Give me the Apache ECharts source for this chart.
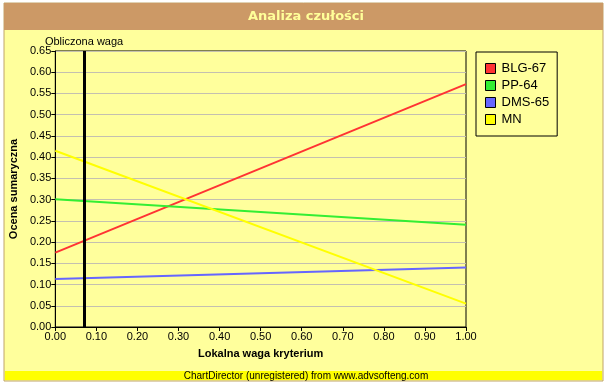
<!DOCTYPE html>
<html>
<head>
<meta charset="utf-8">
<script src="https://cdn.jsdelivr.net/npm/echarts@6/dist/echarts.min.js"></script>
<style>html,body{margin:0;padding:0;background:#fff}#c{width:607px;height:384px}</style>
</head>
<body>
<div id="c"></div>
<script>
var xValues = [0, 1];
var seriesNames = ['BLG-67', 'PP-64', 'DMS-65', 'MN'];
var blg67 = [0.175, 0.572];
var pp64 = [0.301, 0.241];
var dms65 = [0.113, 0.140];
var mn = [0.415, 0.055];
var computedWeight = 0.07;
var colors = ['#ff3333', '#33ee33', '#6666ff', '#ffff00'];

var allValues = [blg67, pp64, dms65, mn];
var chart = echarts.init(document.getElementById('c'));
var font = 'Liberation Sans, Arial, sans-serif';

var series = seriesNames.map(function (name, i) {
  return {
    name: name,
    type: 'line',
    data: xValues.map(function (x, j) { return [x, allValues[i][j]]; }),
    symbol: 'none',
    lineStyle: { color: colors[i], width: 2 },
    itemStyle: { color: colors[i] },
    z: 3,
    silent: true
  };
});
series[0].markLine = {
  silent: true,
  symbol: 'none',
  lineStyle: { color: '#000', width: 3, type: 'solid' },
  label: { show: true, position: 'end', formatter: 'Obliczona waga', color: '#000', fontSize: 11, fontFamily: font, distance: 4 },
  data: [{ xAxis: computedWeight }],
  z: 5
};

chart.setOption({
  animation: false,
  backgroundColor: '#fff',
  graphic: [
    { type: 'rect', shape: { x: 4, y: 3, width: 599, height: 378 }, style: { fill: '#ffff9c', stroke: '#c0a468', lineWidth: 1 }, z: -10 },
    { type: 'rect', shape: { x: 4, y: 3, width: 599, height: 27 }, style: { fill: '#cc9966' }, z: -9 },
    { type: 'rect', shape: { x: 5, y: 371, width: 597, height: 9 }, style: { fill: '#ffff00' }, z: -9 },
    { type: 'text', x: 306, y: 17, style: { text: 'Analiza czułości', fill: '#ffff99', font: 'bold 13px DejaVu Sans, sans-serif', textAlign: 'center', textVerticalAlign: 'middle' }, z: 10 },
    { type: 'text', x: 306, y: 376, style: { text: 'ChartDirector (unregistered) from www.advsofteng.com', fill: '#000', font: '10px Liberation Sans, Arial, sans-serif', textAlign: 'center', textVerticalAlign: 'middle' }, z: 10 }
  ],
  grid: { left: 54, right: 141, top: 51, bottom: 57, show: true, borderColor: '#000', borderWidth: 1, backgroundColor: 'transparent' },
  legend: {
    left: 476, top: 52, orient: 'vertical',
    data: seriesNames.map(function (n) { return { name: n, icon: 'rect' }; }),
    itemWidth: 10, itemHeight: 10, itemGap: 4,
    padding: [10, 8, 10, 9],
    borderColor: '#000', borderWidth: 1,
    itemStyle: { borderColor: '#000', borderWidth: 1 },
    textStyle: { fontSize: 13, fontFamily: font, color: '#000', padding: [0, 0, 0, 1] },
    selectedMode: false
  },
  xAxis: {
    type: 'value', min: 0, max: 1, interval: 0.1,
    name: 'Lokalna waga kryterium', nameLocation: 'middle', nameGap: 21,
    nameTextStyle: { fontWeight: 'bold', fontSize: 11, fontFamily: font, color: '#000' },
    axisLine: { lineStyle: { color: '#000' } },
    axisTick: { show: true, length: 4, lineStyle: { color: '#000' } },
    axisLabel: { formatter: function (v) { return v.toFixed(2); }, fontSize: 11, fontFamily: font, color: '#000', margin: 4 },
    splitLine: { show: false }
  },
  yAxis: {
    type: 'value', min: 0, max: 0.65, interval: 0.05,
    name: 'Ocena sumaryczna', nameLocation: 'middle', nameGap: 29,
    nameTextStyle: { fontWeight: 'bold', fontSize: 11, fontFamily: font, color: '#000' },
    axisLine: { lineStyle: { color: '#000' } },
    axisTick: { show: true, length: 4, lineStyle: { color: '#000' } },
    axisLabel: { formatter: function (v) { return v.toFixed(2); }, fontSize: 11, fontFamily: font, color: '#000', margin: 4 },
    splitLine: { show: true, lineStyle: { color: '#c4c0b0', width: 1 } }
  },
  series: series
});
</script>
</body>
</html>
